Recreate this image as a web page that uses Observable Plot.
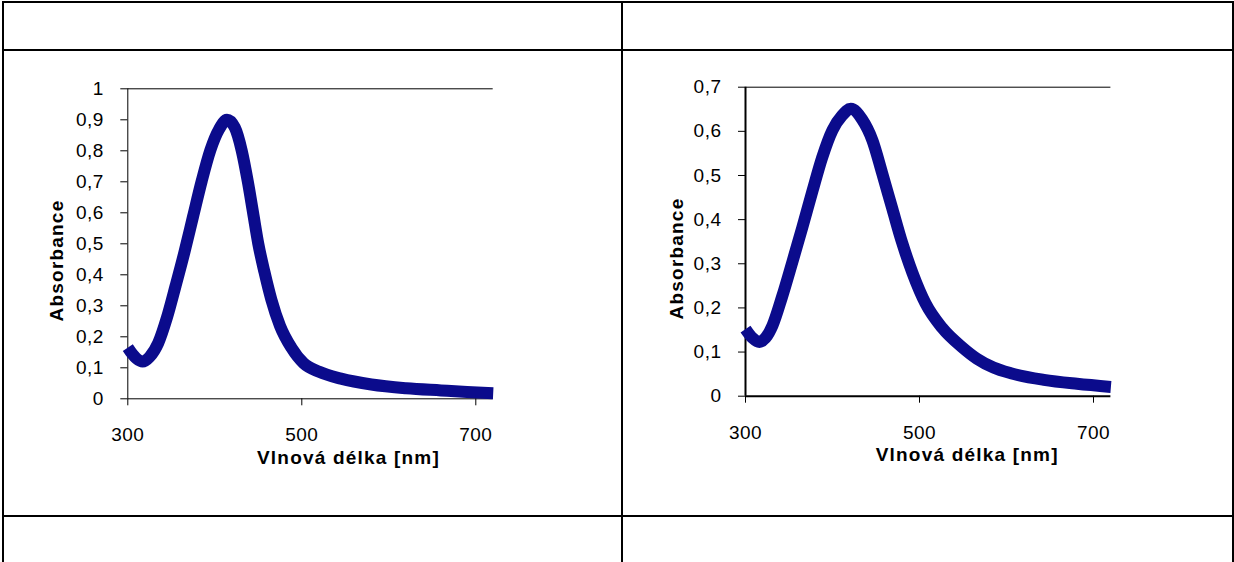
<!DOCTYPE html>
<html>
<head>
<meta charset="utf-8">
<script src="https://cdn.jsdelivr.net/npm/d3@7"></script>
<script src="https://cdn.jsdelivr.net/npm/@observablehq/plot@0.6"></script>
<style>
  html, body { margin: 0; padding: 0; background: white; }
  body { width: 1234px; height: 562px; position: relative; overflow: hidden; }
  .ln { position: absolute; background: black; }
  .cell { position: absolute; top: 51px; width: 600px; height: 460px; }
</style>
</head>
<body>
<div class="ln" style="left:2px;top:1px;width:1232px;height:2px"></div>
<div class="ln" style="left:2px;top:49px;width:1232px;height:2px"></div>
<div class="ln" style="left:2px;top:515px;width:1232px;height:2px"></div>
<div class="ln" style="left:2px;top:1px;width:2px;height:561px"></div>
<div class="ln" style="left:621px;top:1px;width:2px;height:561px"></div>
<div class="ln" style="left:1232px;top:1px;width:2px;height:561px"></div>
<div id="c1" class="cell" style="left:5px"></div>
<div id="c2" class="cell" style="left:624px"></div>
<script>
// Chart 1 spectrum
const wavelength1 = [300, 305, 310, 317, 325, 335, 345, 355, 365, 375, 385, 395, 405, 414, 423, 431, 438, 444, 450, 457, 465, 475, 488, 502, 520, 545, 580, 620, 660, 690, 720];
const absorbance1 = [0.165, 0.145, 0.13, 0.12, 0.135, 0.18, 0.262, 0.365, 0.472, 0.588, 0.703, 0.803, 0.87, 0.90, 0.875, 0.80, 0.70, 0.60, 0.50, 0.41, 0.32, 0.235, 0.165, 0.115, 0.087, 0.065, 0.046, 0.034, 0.027, 0.022, 0.018];
// Chart 2 spectrum
const wavelength2 = [300, 308, 316, 323, 331, 342, 354, 365, 377, 388, 400, 411, 421, 434, 446, 457, 469, 480, 492, 507, 526, 549, 566, 585, 605, 643, 681, 720];
const absorbance2 = [0.152, 0.132, 0.123, 0.132, 0.16, 0.225, 0.305, 0.38, 0.465, 0.54, 0.603, 0.636, 0.651, 0.627, 0.579, 0.506, 0.423, 0.348, 0.279, 0.21, 0.155, 0.111, 0.085, 0.065, 0.052, 0.037, 0.028, 0.021];

const xTicks = [300, 500, 700];
const yTicks1 = [0, 0.1, 0.2, 0.3, 0.4, 0.5, 0.6, 0.7, 0.8, 0.9, 1];
const yTicks2 = [0, 0.1, 0.2, 0.3, 0.4, 0.5, 0.6, 0.7];
const xLabel = "Vlnová délka [nm]";
const yLabel = "Absorbance";

const fmt = d => String(+d.toFixed(1)).replace(".", ",");
const FONT = "'Liberation Sans', Arial, sans-serif";

function chart({wl, ab, yMax, yTicks, ml, mt, mb, axisW, yDx, yDy, xDx, xDy}) {
  const plotW = 365.4;
  const idx = d3.range(wl.length);
  const svg = Plot.plot({
    width: 600,
    height: 460,
    marginLeft: ml,
    marginTop: mt,
    marginBottom: mb,
    marginRight: 600 - ml - plotW,
    style: {background: "transparent", fontFamily: FONT, fontSize: "19px", color: "black", letterSpacing: "0.5px", overflow: "visible"},
    x: {domain: [300, 720], ticks: xTicks, tickSize: 7, tickPadding: 22, tickFormat: d => String(d), label: null},
    y: {domain: [0, yMax], ticks: yTicks, tickSize: 7, tickPadding: 17, tickFormat: fmt, label: null},
    marks: [
      Plot.ruleY([yMax], {stroke: "black", strokeWidth: 1}),
      Plot.ruleY([0], {stroke: "black", strokeWidth: axisW}),
      Plot.ruleX([300], {stroke: "black", strokeWidth: axisW}),
      Plot.line(idx, {x: i => wl[i], y: i => ab[i], curve: "monotone-x", stroke: "#0b0b8c", strokeWidth: 12, strokeLinejoin: "round", strokeLinecap: "butt"}),
      Plot.text([yLabel], {text: d => d, frameAnchor: "left", textAnchor: "middle", lineAnchor: "middle", rotate: -90, dx: yDx, dy: yDy, fontWeight: "bold", fontSize: 19, fill: "black"}),
      Plot.text([xLabel], {text: d => d, frameAnchor: "bottom", textAnchor: "middle", lineAnchor: "middle", dx: xDx, dy: xDy, fontWeight: "bold", fontSize: 19, fill: "black"})
    ]
  });
  svg.querySelectorAll("text").forEach(t => {
    if (t.textContent === yLabel || t.textContent === xLabel) t.style.letterSpacing = "1.2px";
  });
  return svg;
}

document.getElementById("c1").appendChild(chart({
  wl: wavelength1, ab: absorbance1, yMax: 1, yTicks: yTicks1,
  ml: 122.3, mt: 37.3, mb: 112.7, axisW: 1,
  yDx: -70.6, yDy: 16.7, xDx: 38, xDy: 58.9
}));
document.getElementById("c2").appendChild(chart({
  wl: wavelength2, ab: absorbance2, yMax: 0.7, yTicks: yTicks2,
  ml: 121, mt: 35.7, mb: 115.3, axisW: 2,
  yDx: -68.3, yDy: 16.8, xDx: 39, xDy: 58.5
}));
</script>
</body>
</html>
